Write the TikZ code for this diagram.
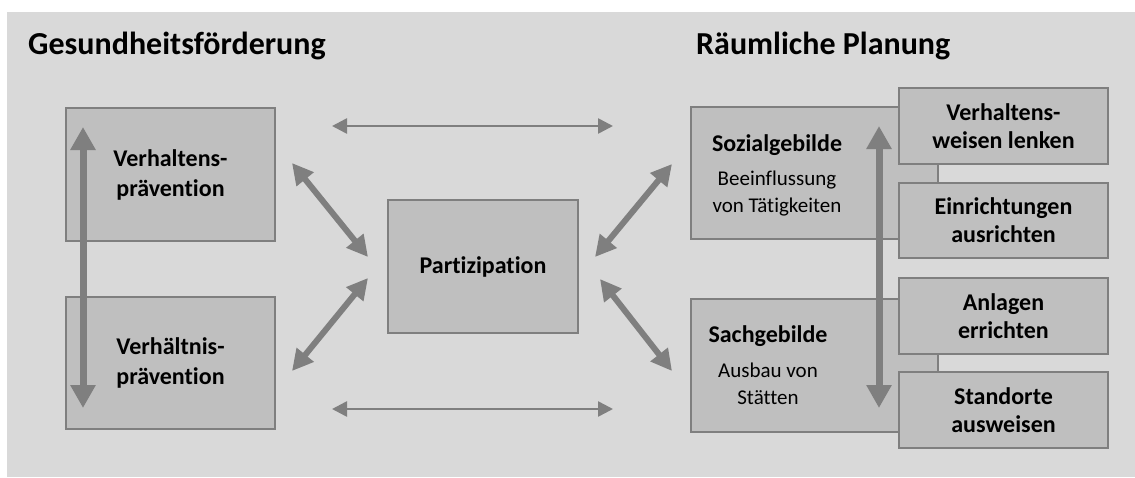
\documentclass[tikz,border=0pt]{standalone}
\usepackage{fontspec}
\setmainfont{Carlito}[Ligatures=NoCommon]
\usetikzlibrary{arrows.meta}
\definecolor{bgcol}{HTML}{D9D9D9}
\definecolor{boxfill}{HTML}{BFBFBF}
\definecolor{edgecol}{HTML}{7F7F7F}
\begin{document}
\begin{tikzpicture}[x=1pt,y=-1pt,
  box/.style={draw=edgecol, line width=2pt, fill=boxfill, inner sep=0pt, anchor=north west},
  lbl/.style={font=\fontsize{24}{30}\selectfont\bfseries, align=center},
  rlbl/.style={font=\fontsize{24}{28}\selectfont\bfseries, align=center},
  sublbl/.style={font=\fontsize{21}{27}\selectfont, align=center, anchor=base},
  title/.style={font=\fontsize{32}{38}\selectfont\bfseries, anchor=base west, inner sep=0pt},
  bigarrow/.style={draw=edgecol, line width=7pt,
    {Triangle[width=24pt,length=23pt]}-{Triangle[width=24pt,length=23pt]}},
  diagarrow/.style={draw=edgecol, line width=6pt,
    {Triangle[width=21pt,length=21pt]}-{Triangle[width=21pt,length=21pt]}},
  thinarrow/.style={draw=edgecol, line width=2.6pt,
    {Triangle[width=15pt,length=15pt]}-{Triangle[width=15pt,length=15pt]}}]
\useasboundingbox (0,0) rectangle (1135,477);
\fill[bgcol] (7,12) rectangle (1135,477);

% headings
\node[title] (tgf) at (28,54) {Gesundheitsförderung};
\node[title] (trp) at (696,54) {Räumliche Planung};

% left column: prevention types
\node[box, minimum width=209pt, minimum height=133pt, lbl] (vhp) at (65,107) {Verhaltens-\\prävention};
\node[box, minimum width=209pt, minimum height=132pt, lbl] (vnp) at (65,296) {Verhältnis-\\prävention};

% centre
\node[box, minimum width=190pt, minimum height=133pt, lbl] (part) at (387,199) {Partizipation};

% right column: social and material structures
\node[box, minimum width=247pt, minimum height=132pt] (soz) at (690,106) {};
\node[box, minimum width=247pt, minimum height=133pt] (sach) at (690,298) {};
\node[sublbl] (soztxt) at (777,212) {{\fontsize{24}{27}\selectfont\bfseries Sozialgebilde}\\[7pt]Beeinflussung\\von Tätigkeiten};
\node[sublbl] (sachtxt) at (768,404) {{\fontsize{24}{27}\selectfont\bfseries Sachgebilde}\\[8pt]Ausbau von\\Stätten};

% measures
\node[box, minimum width=209pt, minimum height=76pt, rlbl] (lenk) at (898,87) {Verhaltens-\\weisen lenken};
\node[box, minimum width=209pt, minimum height=75pt, rlbl] (einr) at (898,182) {Einrichtungen\\ausrichten};
\node[box, minimum width=209pt, minimum height=76pt, rlbl] (anl) at (898,277) {Anlagen\\errichten};
\node[box, minimum width=209pt, minimum height=76pt, rlbl] (stand) at (898,371) {Standorte\\ausweisen};

% arrow end points
\coordinate (lvT) at (83,127);
\coordinate (lvB) at (83,408);
\coordinate (rvT) at (879,126);
\coordinate (rvB) at (879,408);
\coordinate (htL) at (332,126);
\coordinate (htR) at (613,126);
\coordinate (hbL) at (332,409);
\coordinate (hbR) at (613,409);
\coordinate (dltA) at (292,163);
\coordinate (dltB) at (368,257);
\coordinate (dlbA) at (368,278);
\coordinate (dlbB) at (292,371);
\coordinate (drtA) at (595,257);
\coordinate (drtB) at (672,164);
\coordinate (drbA) at (600,279);
\coordinate (drbB) at (672,371);

% arrows
\draw[bigarrow] (lvT) -- (lvB);
\draw[bigarrow] (rvT) -- (rvB);
\draw[thinarrow] (htL) -- (htR);
\draw[thinarrow] (hbL) -- (hbR);
\draw[diagarrow] (dltA) -- (dltB);
\draw[diagarrow] (dlbA) -- (dlbB);
\draw[diagarrow] (drtA) -- (drtB);
\draw[diagarrow] (drbA) -- (drbB);
\end{tikzpicture}
\end{document}
